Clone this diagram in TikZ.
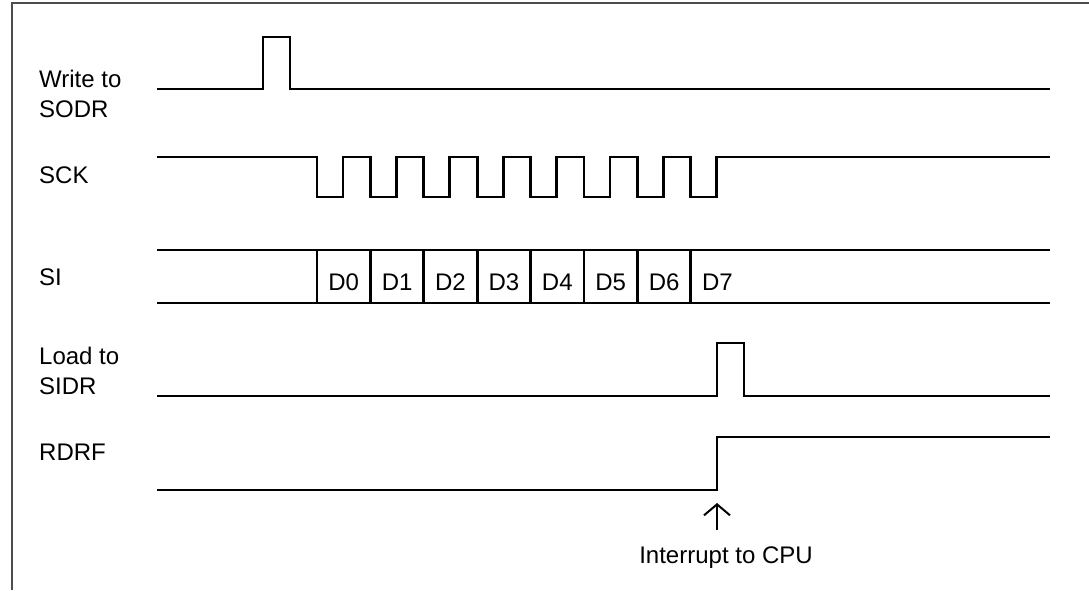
\documentclass[tikz,border=0pt]{standalone}
\usepackage{fontspec}
\setmainfont{Liberation Sans}
\usetikzlibrary{arrows.meta}
\begin{document}
\begin{tikzpicture}[x=1pt,y=-1pt,>={Straight Barb[length=11pt,width=26pt]},
        wave/.style={line width=2.7pt,line join=miter},
        lbl/.style={anchor=west,align=left,inner sep=0pt,font=\fontsize{24}{30}\selectfont},
        dlbl/.style={inner sep=0pt,font=\fontsize{24}{30}\selectfont}]

        \useasboundingbox (0,0) rectangle (1089,590);
        \draw[line width=1.4pt,black!70] (12,590) -- (12,3) -- (1089,3);

        \node[lbl] (WR)   at (39,94)  {Write to\\SODR};
        \node[lbl] (SCK)  at (39,175) {SCK};
        \node[lbl] (SI)   at (39,277) {SI};
        \node[lbl] (LD)   at (39,371) {Load to\\SIDR};
        \node[lbl] (RDRF) at (39,452) {RDRF};
        \node[dlbl,anchor=base] (INT) at (726,563) {Interrupt to CPU};

        \draw[wave] (157,89) -- (263,89) -- (263,37) -- (290,37) -- (290,89) -- (1050,89);

        \draw[wave] (157,157) foreach \k in {0,...,7} {
                -- ({317+53.4*\k},157) -- ++(0,40) -- ++(26,0) -- ++(0,-40)
        } -- (1050,157);

        \draw[wave] (157,250) -- (1050,250);
        \draw[wave] (157,303) -- (1050,303);
        \foreach \k in {0,...,7} {
                \draw[wave] ({317+53.4*\k},250) -- ({317+53.4*\k},303);
                \node[dlbl] (D\k) at ({317+53.4*\k+26.7},282) {D\k};
        }

        \draw[wave] (157,396) -- (717,396) -- (717,343) -- (744,343) -- (744,396) -- (1050,396);

        \draw[wave] (157,490) -- (717,490) -- (717,437) -- (1050,437);

        \coordinate (tail) at (717,530);
        \coordinate (tip)  at (717,503);
        \draw[->,line width=2pt] (tail) -- (tip);

\end{tikzpicture}
\end{document}
